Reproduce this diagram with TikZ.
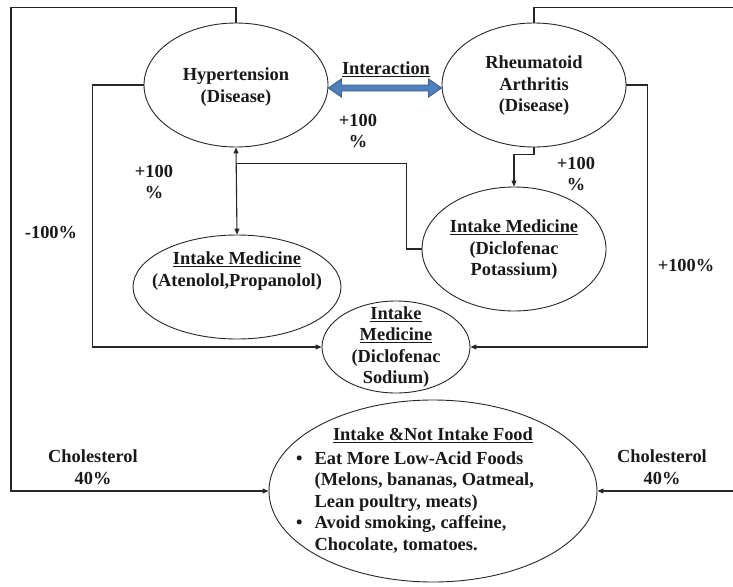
\documentclass[tikz,border=0pt]{standalone}
\usepackage{fontspec}
\setmainfont{Liberation Serif}
\usetikzlibrary{shapes.geometric,arrows.meta,calc}
\definecolor{arrowfill}{HTML}{4F81BD}
\definecolor{arrowline}{HTML}{385D8A}
\begin{document}
\begin{tikzpicture}[x=1pt,y=-1pt,
  font=\fontsize{18.4}{21.5}\selectfont\bfseries,
  oval/.style={draw=black!85,line width=0.9pt,ellipse,inner sep=0pt},
  txt/.style={align=center,inner sep=0pt,text=black!90},
  wire/.style={draw=black!85,line width=1.1pt},
  tip/.style={-{Triangle[length=6pt,width=5pt]}},
  bothtips/.style={{Triangle[length=6pt,width=5pt]}-{Triangle[length=6pt,width=5pt]}},
  blockarrow/.style={fill=arrowfill,draw=arrowline,line width=0.9pt,line join=miter},
]
\useasboundingbox (0,0) rectangle (733,586);

% ellipses
\node[oval,minimum width=184pt,minimum height=124pt] (hyp) at (236,85) {};
\node[oval,minimum width=184pt,minimum height=124pt] (rha) at (534,85) {};
\node[oval,minimum width=208pt,minimum height=104pt] (atn) at (237,287) {};
\node[oval,minimum width=184pt,minimum height=124pt] (pot) at (514,249) {};
\node[oval,minimum width=148pt,minimum height=92pt] (sod) at (396,347) {};
\node[oval,minimum width=328pt,minimum height=182pt] (food) at (433,491) {};

% texts inside ellipses
\node[txt] (hypT) at (236,87) {Hypertension\\(Disease)};
\node[txt] (rhaT) at (534,86) {Rheumatoid\\Arthritis\\(Disease)};
\node[txt] (atnT) at (237,271) {\underline{Intake Medicine}\\(Atenolol,Propanolol)};
\node[txt] (potT) at (514,250) {\underline{Intake Medicine}\\(Diclofenac\\Potassium)};
\node[txt] (sodT) at (396,347) {\underline{Intake}\\\underline{Medicine}\\(Diclofenac\\Sodium)};
\node[txt] (foodT) at (433,435) {\underline{Intake \&Not Intake Food}};
\node[anchor=base west,inner sep=0pt,text=black!90] (foodL) at (296,464)
  {\begin{tabular}[t]{@{}l@{\hspace{12pt}}l@{}}
    \textbullet & Eat More Low-Acid Foods\\
     & (Melons, bananas, Oatmeal,\\
     & Lean poultry, meats)\\
    \textbullet & Avoid smoking, caffeine,\\
     & Chocolate, tomatoes.
   \end{tabular}};

% interaction block arrow
\coordinate (ia) at ($(hyp.east)+(0,3)$);
\coordinate (ib) at ($(rha.west)+(0,3)$);
\draw[blockarrow] (ia) -- ($(ia)+(13,-9)$) -- ($(ia)+(13,-3)$) -- ($(ib)+(-13,-3)$)
  -- ($(ib)+(-13,-9)$) -- (ib) -- ($(ib)+(-13,9)$) -- ($(ib)+(-13,3)$)
  -- ($(ia)+(13,3)$) -- ($(ia)+(13,9)$) -- cycle;
\node[txt] (inter) at (386,69) {\underline{Interaction}};

% connectors
\coordinate (j) at ($(hyp.south)+(0,16)$);
\coordinate (lc) at (11,491);
\coordinate (rc) at (737,491);
\draw[wire,bothtips] (hyp.south) -- (atn.north);
\draw[wire] (pot.west) -- ++(-15,0) |- (j);
\draw[wire,tip] (rha.south) -- ++(0,7) -| (pot.north);
\draw[wire,tip] (hyp.west) -- ++(-51,0) |- (sod.west);
\draw[wire,tip] (rha.east) -- ++(21,0) |- (sod.east);
\draw[wire,tip] (hyp.north) -- ++(0,-15) -| (lc) -- (food.west);
\draw[wire,tip] (rha.north) -- ++(0,-15) -| (rc) -- (food.east);

% percentage labels
\node[txt] (p1) at (358,131) {+100\\\%};
\node[txt] (p2) at (154,182) {+100\\\%};
\node[txt] (p3) at (576,174) {+100\\\%};
\node[txt] (m1) at (51,233) {-100\%};
\node[txt] (p4) at (686,265) {+100\%};
\node[txt] (c1) at (93,467) {Cholesterol\\40\%};
\node[txt] (c2) at (662,467) {Cholesterol\\40\%};
\end{tikzpicture}
\end{document}
